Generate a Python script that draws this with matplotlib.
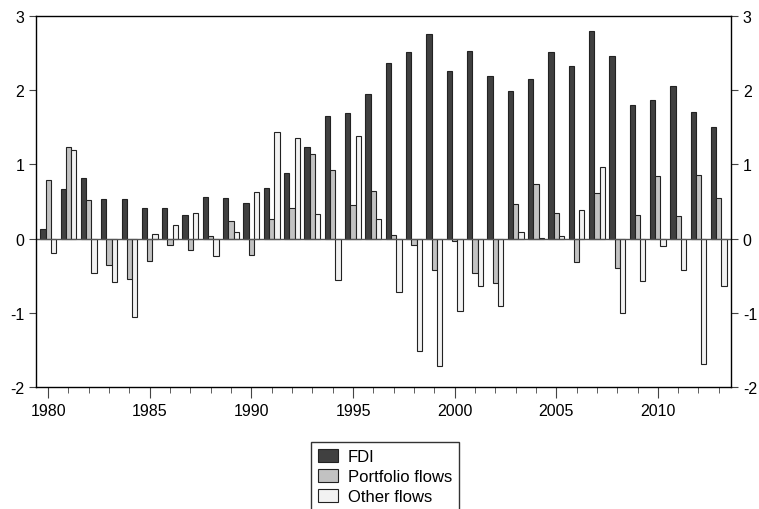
import numpy as np
import matplotlib
matplotlib.use("Agg")
import matplotlib.pyplot as plt

plt.rcParams['font.family'] = ['Liberation Sans', 'DejaVu Sans']
plt.rcParams['axes.unicode_minus'] = False

years = np.arange(1980, 2014)
fdi = [0.13, 0.67, 0.81, 0.53, 0.53, 0.41, 0.41, 0.32, 0.56, 0.54,
       0.48, 0.68, 0.89, 1.23, 1.65, 1.69, 1.95, 2.36, 2.51, 2.75,
       2.26, 2.53, 2.19, 1.99, 2.15, 2.51, 2.33, 2.79, 2.46, 1.80,
       1.86, 2.05, 1.71, 1.50]
portfolio = [0.79, 1.24, 0.52, -0.36, -0.55, -0.30, -0.08, -0.16, 0.03, 0.24,
             -0.22, 0.26, 0.41, 1.14, 0.93, 0.45, 0.64, 0.05, -0.08, -0.42,
             -0.03, -0.46, -0.60, 0.46, 0.73, 0.35, -0.32, 0.62, -0.40, 0.32,
             0.84, 0.31, 0.85, 0.55]
other = [-0.19, 1.19, -0.46, -0.58, -1.05, 0.06, 0.18, 0.35, -0.23, 0.09,
         0.63, 1.44, 1.35, 0.33, -0.56, 1.38, 0.26, -0.72, -1.52, -1.71,
         -0.98, -0.64, -0.91, 0.09, 0.01, 0.03, 0.38, 0.97, -1.00, -0.57,
         -0.10, -0.42, -1.69, -0.64]
labels = ['FDI', 'Portfolio flows', 'Other flows']
colors = ['#404040', '#c2c2c2', '#f2f2f2']

fig = plt.figure(figsize=(7.59, 5.10), dpi=100)
ax = fig.add_axes([0.0474, 0.239, 0.9157, 0.728])

w = 0.26
for i, (vals, lab, c) in enumerate(zip([fdi, portfolio, other], labels, colors)):
    ax.bar(years + (i - 1) * w, vals, width=w, color=c, edgecolor='#222222',
           linewidth=0.8, label=lab)

ax.axhline(0, color='#555555', linewidth=1)
ax.set_xlim(1979.4, 2013.6)
ax.set_ylim(-2, 3)
ax.set_yticks([-2, -1, 0, 1, 2, 3])
ax.set_xticks(np.arange(1980, 2011, 5))
ax.set_xticks(years, minor=True)
ax.tick_params(axis='y', which='both', left=True, right=True, labelleft=True,
               labelright=True, direction='out', length=5, labelsize=11.5,
               color='#444444')
ax.tick_params(axis='x', which='major', direction='out', length=8, labelsize=11.5,
               color='#444444')
ax.tick_params(axis='x', which='minor', direction='out', length=4, color='#444444')
for s in ax.spines.values():
    s.set_linewidth(1)

fig.legend(loc='upper center', bbox_to_anchor=(0.507, 0.131), ncol=1,
           fontsize=12, frameon=True, fancybox=False, edgecolor='#333333',
           framealpha=1, borderpad=0.4, labelspacing=0.3, handlelength=1.2,
           handleheight=0.8, handletextpad=0.6, borderaxespad=0)

fig.savefig('out.png', dpi=100)
